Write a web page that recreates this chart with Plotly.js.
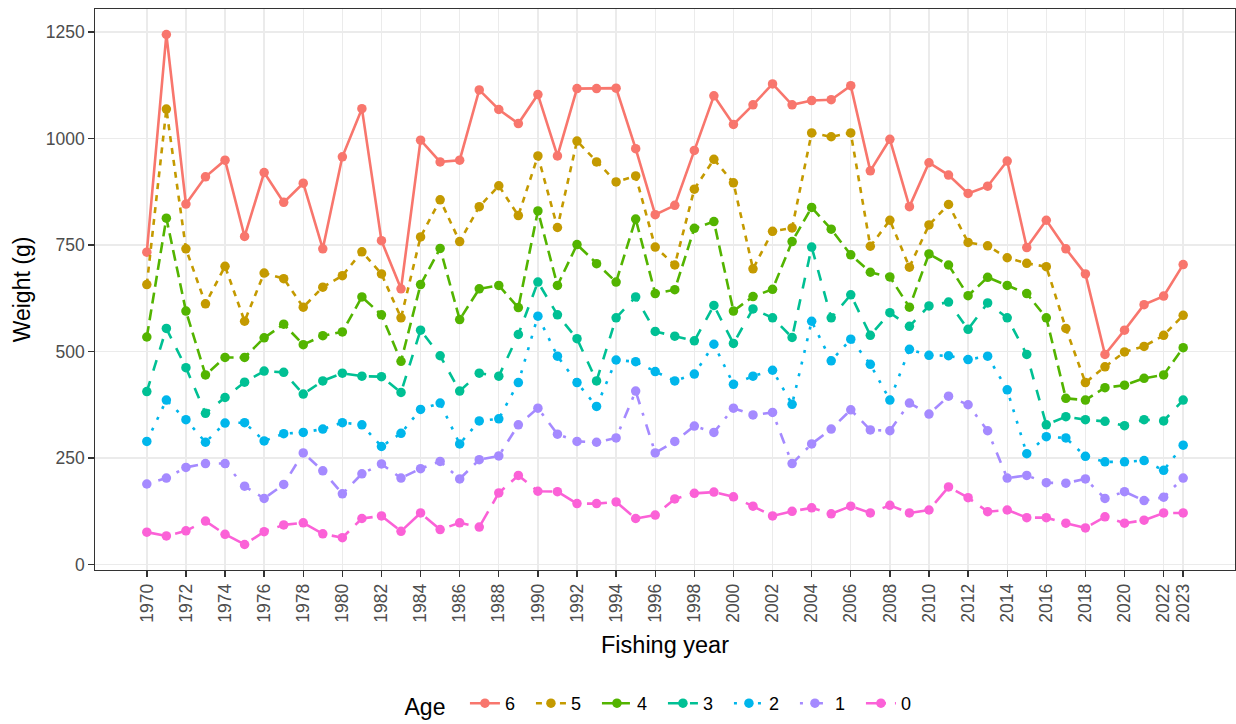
<!DOCTYPE html>
<html>
<head>
<meta charset="utf-8">
<script src="https://cdn.plot.ly/plotly-3.0.1.min.js"></script>
<style>
  html, body { margin: 0; padding: 0; background: #ffffff; }
  #chart { width: 1236px; height: 724px; }
</style>
</head>
<body>
<div id="chart"></div>
<script>
// Mean weight at age (g) by fishing year
const years = [];
for (let y = 1970; y <= 2023; y++) years.push(y);

const age6 = [733, 1244, 846, 910, 949, 770, 920, 850, 895, 741,
              957, 1070, 760, 647, 996, 945, 949, 1114, 1068, 1035,
              1103, 959, 1117, 1117, 1118, 976, 821, 843, 972, 1100,
              1033, 1079, 1128, 1079, 1089, 1091, 1124, 924, 998, 840,
              943, 914, 871, 888, 947, 744, 808, 741, 682, 493,
              550, 610, 630, 704];
const age5 = [657, 1069, 741, 612, 700, 571, 684, 671, 604, 651,
              678, 734, 682, 579, 769, 856, 758, 840, 889, 819,
              959, 791, 994, 945, 898, 912, 745, 703, 881, 951,
              896, 694, 782, 790, 1013, 1004, 1013, 747, 808, 698,
              797, 845, 756, 748, 720, 707, 699, 554, 427, 464,
              499, 512, 538, 585];
const age4 = [534, 813, 595, 445, 486, 486, 532, 564, 516, 537,
              546, 628, 586, 477, 657, 742, 575, 647, 655, 603,
              830, 655, 751, 706, 663, 811, 636, 645, 789, 805,
              595, 629, 646, 758, 838, 787, 727, 686, 675, 604,
              729, 703, 631, 674, 655, 636, 579, 390, 386, 415,
              421, 437, 445, 509];
const age3 = [406, 554, 462, 355, 392, 428, 454, 451, 400, 431,
              449, 442, 441, 404, 550, 490, 407, 449, 442, 540,
              663, 586, 530, 431, 579, 628, 547, 536, 525, 608,
              519, 600, 579, 533, 745, 579, 633, 538, 591, 559,
              607, 616, 552, 614, 579, 493, 328, 347, 340, 336,
              326, 340, 337, 386];
const age2 = [289, 386, 340, 287, 332, 333, 290, 307, 310, 318,
              333, 328, 277, 308, 364, 379, 283, 337, 342, 427,
              583, 489, 427, 371, 480, 476, 453, 431, 447, 517,
              423, 442, 456, 376, 571, 478, 529, 470, 386, 505,
              491, 490, 481, 489, 410, 260, 300, 297, 254, 241,
              241, 244, 221, 280];
const age1 = [189, 203, 228, 237, 237, 184, 155, 188, 262, 220,
              166, 213, 236, 203, 225, 242, 201, 246, 255, 328,
              367, 306, 289, 287, 297, 407, 262, 289, 325, 310,
              367, 351, 357, 237, 283, 318, 363, 316, 314, 379,
              353, 395, 375, 314, 203, 209, 192, 191, 201, 155,
              171, 150, 158, 203];
const age0 = [76, 67, 79, 102, 71, 47, 77, 93, 98, 72,
              63, 108, 114, 78, 121, 82, 98, 88, 168, 209,
              172, 171, 143, 143, 147, 108, 116, 154, 167, 170,
              159, 137, 114, 125, 133, 119, 137, 121, 139, 121,
              128, 182, 157, 124, 128, 110, 110, 97, 86, 112,
              97, 104, 121, 121];

const ageLabels = ['6', '5', '4', '3', '2', '1', '0'];
const ageSeries = [age6, age5, age4, age3, age2, age1, age0];
const ageColors = ['#F8766D', '#C49A00', '#53B400', '#00C094', '#00B6EB', '#A58AFF', '#FB61D7'];
const ageDashes = ['solid', '6px,6px', '11px,6px', '11px,11px', '3px,9px', '3px,9px,11px,9px', '20px,9px'];

const xTickVals = [1970, 1972, 1974, 1976, 1978, 1980, 1982, 1984, 1986, 1988, 1990,
                   1992, 1994, 1996, 1998, 2000, 2002, 2004, 2006, 2008, 2010,
                   2012, 2014, 2016, 2018, 2020, 2022, 2023];
const yTickVals = [0, 250, 500, 750, 1000, 1250];

// ggplot-style 5% expansion of the data ranges
function expanded(lo, hi) {
  const pad = (hi - lo) * 0.05;
  return [lo - pad, hi + pad];
}
const allVals = [].concat(...ageSeries);
const yRange = expanded(Math.min(...allVals), Math.max(...allVals));
const xRange = expanded(years[0], years[years.length - 1]);

const traces = ageLabels.map((lab, i) => ({
  type: 'scatter',
  mode: 'lines+markers',
  name: lab,
  x: years,
  y: ageSeries[i],
  line: { color: ageColors[i], width: 2.6, dash: ageDashes[i] },
  marker: { color: ageColors[i], size: 9.5 },
  hoverinfo: 'x+y+name'
}));

const fontFamily = '"Liberation Sans", Arial, Helvetica, sans-serif';

const layout = {
  width: 1236,
  height: 724,
  paper_bgcolor: '#ffffff',
  plot_bgcolor: '#ffffff',
  margin: { l: 95, r: 1, t: 9, b: 154 },
  font: { family: fontFamily, color: '#000000' },
  showlegend: true,
  legend: {
    orientation: 'h',
    x: 0.5,
    xanchor: 'center',
    yref: 'container',
    y: 1 - 705 / 724,
    yanchor: 'middle',
    itemwidth: 30,
    entrywidth: 21,
    entrywidthmode: 'pixels',
    font: { size: 18, color: '#000000' },
    title: { text: 'Age\u2002', font: { size: 23, color: '#000000' }, side: 'left' },
    traceorder: 'normal',
    bgcolor: 'rgba(0,0,0,0)'
  },
  xaxis: {
    range: xRange,
    tickmode: 'array',
    tickvals: xTickVals,
    ticktext: xTickVals.map(String),
    tickangle: -90,
    tickfont: { size: 17.5, color: '#4D4D4D' },
    ticks: 'outside',
    ticklen: 5.5,
    tickwidth: 1.4,
    tickcolor: '#333333',
    showgrid: true,
    gridcolor: '#EBEBEB',
    gridwidth: 1.4,
    zeroline: false,
    showline: true,
    mirror: true,
    linecolor: '#333333',
    linewidth: 1.3,
    automargin: false,
    title: { text: 'Fishing year', font: { size: 23.5, color: '#000000' }, standoff: 14 }
  },
  yaxis: {
    range: yRange,
    tickmode: 'array',
    tickvals: yTickVals,
    ticktext: yTickVals.map(String),
    tickfont: { size: 17.5, color: '#4D4D4D' },
    ticks: 'outside',
    ticklen: 5.5,
    tickwidth: 1.4,
    tickcolor: '#333333',
    showgrid: true,
    gridcolor: '#EBEBEB',
    gridwidth: 1.4,
    zeroline: false,
    showline: true,
    mirror: true,
    linecolor: '#333333',
    linewidth: 1.3,
    automargin: false,
    title: { text: 'Weight (g)', font: { size: 23, color: '#000000' }, standoff: 8 }
  }
};

Plotly.newPlot('chart', traces, layout, { displayModeBar: false, staticPlot: true });
</script>
</body>
</html>
